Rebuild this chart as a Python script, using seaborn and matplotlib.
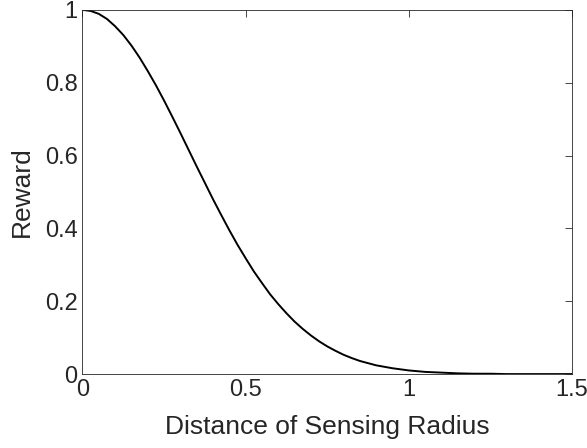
import numpy as np
import pandas as pd
import matplotlib
matplotlib.use("Agg")
import matplotlib.pyplot as plt
import seaborn as sns

distance = [0.0, 0.025, 0.05, 0.075, 0.1, 0.125, 0.15, 0.175, 0.2, 0.225, 0.25, 0.275,
            0.3, 0.325, 0.35, 0.375, 0.4, 0.425, 0.45, 0.475, 0.5, 0.525, 0.55, 0.575,
            0.6, 0.625, 0.65, 0.675, 0.7, 0.725, 0.75, 0.775, 0.8, 0.825, 0.85, 0.875,
            0.9, 0.925, 0.95, 0.975, 1.0, 1.05, 1.1, 1.15, 1.2, 1.25, 1.3, 1.35, 1.4,
            1.45, 1.5]
reward = [1.0, 0.997, 0.989, 0.975, 0.955, 0.931, 0.902, 0.869, 0.832, 0.793, 0.751,
          0.707, 0.662, 0.616, 0.570, 0.525, 0.480, 0.437, 0.395, 0.355, 0.318, 0.282,
          0.250, 0.219, 0.192, 0.167, 0.144, 0.124, 0.106, 0.090, 0.076, 0.064, 0.053,
          0.044, 0.036, 0.030, 0.024, 0.020, 0.016, 0.013, 0.010, 0.006, 0.004, 0.002,
          0.001, 0.001, 0.0, 0.0, 0.0, 0.0, 0.0]
xticks = [0, 0.5, 1, 1.5]
xticklabels = ["0", "0.5", "1", "1.5"]
yticks = [0, 0.2, 0.4, 0.6, 0.8, 1]
yticklabels = ["0", "0.2", "0.4", "0.6", "0.8", "1"]

df = pd.DataFrame({"Distance": distance, "Reward": reward})

sns.set_theme(style="white")
plt.rcParams['font.family'] = ['Liberation Sans', 'DejaVu Sans']

fig = plt.figure(figsize=(5.87, 4.48), dpi=100)
ax = fig.add_axes([0.1405, 0.165, 0.834, 0.813])
sns.lineplot(data=df, x="Distance", y="Reward", color="black", linewidth=1.4, ax=ax)

ax.set_xlim(0, 1.5)
ax.set_ylim(0, 1)
ax.set_xticks(xticks)
ax.set_xticklabels(xticklabels)
ax.set_yticks(yticks)
ax.set_yticklabels(yticklabels)
gray = "#262626"
ax.tick_params(direction="in", length=5, width=0.6, colors=gray, labelsize=17,
               top=True, right=True, labelcolor=gray, pad=3.5)
for s in ax.spines.values():
    s.set_color(gray)
    s.set_linewidth(0.6)
ax.set_xlabel("Distance of Sensing Radius", fontsize=19, color=gray, labelpad=10)
ax.set_ylabel("Reward", fontsize=19, color=gray, labelpad=8)

fig.savefig("out.png", dpi=100)
